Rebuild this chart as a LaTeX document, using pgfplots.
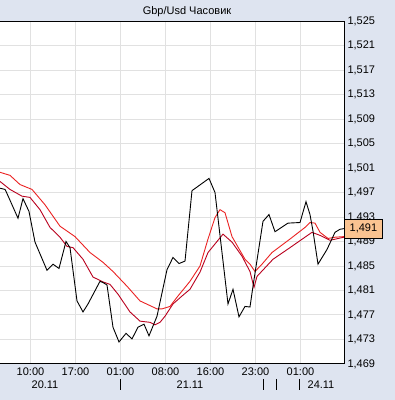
\documentclass[border=0pt]{standalone}
\usepackage{fontspec}
\setmainfont{Liberation Sans}
\usepackage{pgfplots}
\pgfplotsset{compat=1.18}
\definecolor{bgc}{RGB}{222,228,240}
\definecolor{gridc}{RGB}{225,225,225}
\definecolor{maA}{RGB}{235,35,35}
\definecolor{maB}{RGB}{185,0,30}
\definecolor{boxc}{RGB}{250,195,145}
\begin{document}
\begin{tikzpicture}[x=1pt,y=1pt]
\fill[bgc] (0,0) rectangle (395,-400);
\useasboundingbox (0,0) rectangle (395,-400);
\begin{axis}[
  at={(0pt,-21pt)}, anchor=north west,
  scale only axis, width=344pt, height=343pt,
  xmin=0, xmax=344, ymin=1.469, ymax=1.525,
  axis background/.style={fill=white},
  axis line style={draw=none},
  major tick length=0pt,
  xtick={30.5,75.5,120.5,165.5,210.5,255.5,300.5},
  xticklabels={10:00,17:00,01:00,08:00,16:00,23:00,01:00},
  ytick={1.469,1.473,1.477,1.481,1.485,1.489,1.493,1.497,1.501,1.505,1.509,1.513,1.517,1.521,1.525},
  yticklabel pos=right,
  yticklabel style={/pgf/number format/.cd, use comma, fixed, precision=3, fixed zerofill, assume math mode=true},
  ticklabel style={font=\fontsize{11}{13}\selectfont},
  grid=major,
  major grid style={gridc, line width=1pt},
  clip=false,
]
\addplot[maA, line width=0.9pt] coordinates {
(0,1.5003) (10,1.4998) (20,1.4983) (32,1.4975) (45,1.4950) (60,1.4915) (75,1.4898) (90,1.4872) (103,1.4856) (113,1.4841) (127,1.4817) (140,1.4793) (157,1.4780) (162,1.4780) (170,1.4784) (177,1.4799) (190,1.4825) (200,1.4850) (208,1.4894) (215,1.4929) (220,1.4942) (225,1.4937) (232,1.4898) (245,1.4861) (250,1.4853) (255,1.4841) (262,1.4853) (272,1.4872) (290,1.4894) (305,1.4913) (310,1.4921) (315,1.4920) (320,1.4905) (328,1.4895) (335,1.4897) (344,1.4898)
};
\addplot[maB, line width=0.9pt] coordinates {
(0,1.4988) (10,1.4975) (22,1.4964) (30,1.4962) (40,1.4942) (50,1.4913) (60,1.4897) (67,1.4882) (73,1.4880) (83,1.4861) (93,1.4832) (103,1.4824) (110,1.4820) (118,1.4804) (130,1.4775) (140,1.4760) (150,1.4758) (155,1.4754) (160,1.4758) (165,1.4768) (173,1.4788) (182,1.4801) (190,1.4812) (200,1.4840) (208,1.4872) (223,1.4902) (232,1.4889) (242,1.4866) (250,1.4841) (254,1.4815) (257,1.4833) (273,1.4861) (290,1.4880) (312,1.4905) (320,1.4900) (330,1.4892) (344,1.4897)
};
\addplot[black, line width=0.9pt] coordinates {
(0,1.4977) (5,1.4975) (6,1.4972) (18,1.4928) (23,1.4960) (29,1.4939) (35,1.4889) (47,1.4843) (53,1.4853) (59,1.4846) (66,1.4890) (70,1.4880) (77,1.4793) (83,1.4775) (88,1.4788) (100,1.4825) (103,1.4823) (107,1.4819) (113,1.4750) (119,1.4726) (126,1.4740) (132,1.4731) (138,1.4750) (144,1.4755) (149,1.4736) (153,1.4752) (157,1.4768) (167,1.4844) (173,1.4864) (179,1.4854) (185,1.4858) (192,1.4973) (209,1.4993) (215,1.4970) (228,1.4788) (233,1.4812) (239,1.4767) (245,1.4784) (250,1.4783) (253,1.4817) (263,1.4923) (269,1.4934) (275,1.4906) (288,1.4920) (300,1.4921) (306,1.4955) (310,1.4934) (313,1.4907) (318,1.4853) (327,1.4877) (335,1.4905) (340,1.4910) (344,1.4911)
};
\draw[black, line width=1pt] (rel axis cs:0,1) -| (rel axis cs:1,0) -- (rel axis cs:0,0);
\coordinate (pb) at (axis cs:344,1.4911);
\coordinate (d1) at (axis cs:45,1.469);
\coordinate (d2) at (axis cs:190,1.469);
\coordinate (d3) at (axis cs:321,1.469);
\coordinate (s1) at (axis cs:120.5,1.469);
\coordinate (s2) at (axis cs:263,1.469);
\coordinate (s3) at (axis cs:276,1.469);
\coordinate (s4) at (axis cs:299,1.469);
\end{axis}
\node[font=\fontsize{11}{13}\selectfont] at (187,-12) {Gbp/Usd Часовик};
\node[fill=boxc, draw=black, line width=0.8pt, anchor=west, minimum height=19pt, minimum width=38pt, inner sep=1pt, font=\fontsize{11}{13}\selectfont] at (pb) {1,491};
\foreach \c/\t in {d1/20.11,d2/21.11,d3/24.11}{
  \node[font=\fontsize{11}{13}\selectfont] at ([yshift=-21pt]\c) {\t};
}
\foreach \c in {s1,s2,s3,s4}{
  \draw[black, line width=1pt] ([yshift=-15pt]\c) -- ([yshift=-26pt]\c);
}
\end{tikzpicture}
\end{document}
